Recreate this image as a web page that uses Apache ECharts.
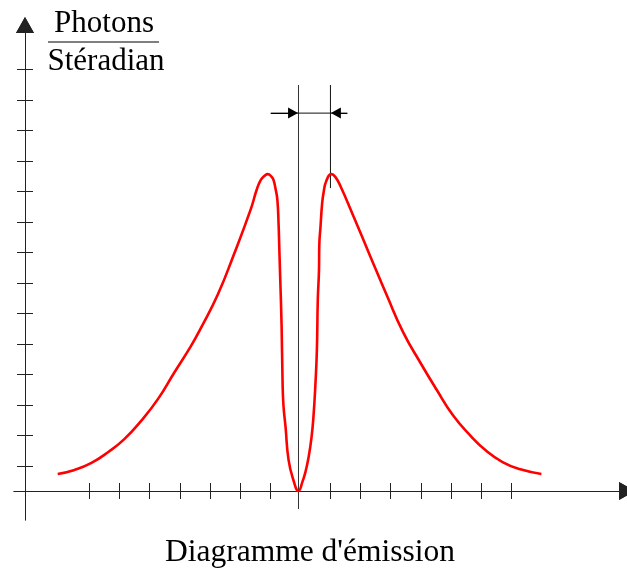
<!DOCTYPE html>
<html>
<head>
<meta charset="utf-8">
<script src="https://cdn.jsdelivr.net/npm/echarts@6/dist/echarts.min.js"></script>
<style>html,body{margin:0;padding:0;background:#fff;}#chart{width:627px;height:571px;}</style>
</head>
<body>
<div id="chart"></div>
<script>
// Emission curve (x: angle in tick units, 0 = axis of the beam; y: photons per steradian in tick units)
var curveX = [-7.99,-7.43,-6.87,-6.31,-5.78,-5.22,-4.66,-4.13,-3.57,-3.24,-2.67,-2.15,-1.58,-1.39,-1.25,-1.12,-1.02,-0.89,-0.83,-0.76,-0.70,-0.66,-0.64,-0.61,-0.56,-0.53,-0.50,-0.43,-0.33,-0.17,0,
              0.13,0.23,0.33,0.43,0.50,0.56,0.61,0.64,0.68,0.69,0.73,0.78,0.83,0.92,1.09,1.22,1.39,1.82,2.38,2.94,3.47,4.03,4.59,5.12,5.68,6.24,6.77,7.33,8.06];
var curveY = [0.56,0.69,0.92,1.28,1.70,2.30,3.02,3.87,4.75,5.34,6.46,7.74,9.25,9.87,10.20,10.34,10.39,10.30,10.20,9.90,9.54,8.72,8.07,7.08,5.38,3.64,2.82,2.10,1.02,0.36,0,
              0.30,0.62,1.08,1.74,2.49,3.48,4.62,6.26,7.25,8.07,8.66,9.38,9.77,10.16,10.39,10.30,10.00,9.02,7.70,6.39,5.21,4.23,3.31,2.49,1.84,1.31,0.95,0.72,0.56];
// Tick positions
var xTicks = [-6.94,-5.94,-4.94,-3.94,-2.94,-1.94,-0.94,1.06,2.06,3.06,4.06,5.06,6.06,7.06];
var yTicks = [0.82,1.82,2.82,3.82,4.82,5.82,6.82,7.82,8.82,9.82,10.82,11.82,12.82,13.82];
// Annotation (angular width between beam axis and the peak)
var centerLineX = [0, 0];
var centerLineY = [-0.59, 13.31];
var peakLineX = [1.06, 1.06];
var peakLineY = [9.93, 13.31];
var spanX = [-0.92, 1.62];
var spanY = [12.39, 12.39];
var arrowFromX = [-0.92, 1.62];
var arrowToX = [-0.18, 1.24];
// Texts
var yTitleTop = 'Photons';
var yTitleBottom = 'Stéradian';
var xTitle = "Diagramme d'émission";

function zip(a, b) { return a.map(function (v, i) { return [v, b[i]]; }); }

var serif = 'Liberation Serif';
var axisColor = '#222';

function xAxisDef(inside) {
  return {
    type: 'value', min: -9.44, max: 10.9, position: 'bottom',
    axisLine: { show: true, onZero: true, onZeroAxisIndex: 0, symbol: ['none', 'triangle'], symbolSize: [18, 16], lineStyle: { color: axisColor, width: 1 } },
    axisTick: { show: true, inside: inside, length: 8, customValues: xTicks, lineStyle: { color: axisColor, width: 1 } },
    axisLabel: { show: false, customValues: xTicks },
    splitLine: { show: false }
  };
}
function yAxisDef(inside) {
  return {
    type: 'value', min: -0.951, max: 15.279, position: 'left', offset: -11,
    axisLine: { show: true, onZero: false, symbol: ['none', 'triangle'], symbolSize: [18, 16], lineStyle: { color: axisColor, width: 1 } },
    axisTick: { show: true, inside: inside, length: 8, customValues: yTicks, lineStyle: { color: axisColor, width: 1 } },
    axisLabel: { show: false, customValues: yTicks },
    splitLine: { show: false }
  };
}

var chart = echarts.init(document.getElementById('chart'), null, { renderer: 'canvas' });
chart.setOption({
  animation: false,
  backgroundColor: '#fff',
  grid: { left: 14, top: 25, width: 616, height: 495, containLabel: false },
  xAxis: [xAxisDef(false), xAxisDef(true)],
  yAxis: [yAxisDef(false), yAxisDef(true)],
  series: [
    {
      name: 'center', type: 'line', silent: true, showSymbol: false, symbol: 'none',
      data: zip(centerLineX, centerLineY),
      lineStyle: { color: '#333', width: 1 }, z: 3
    },
    {
      name: 'peak', type: 'line', silent: true, showSymbol: false, symbol: 'none',
      data: zip(peakLineX, peakLineY),
      lineStyle: { color: '#111', width: 1 }, z: 3
    },
    {
      name: 'span', type: 'line', silent: true, showSymbol: false, symbol: 'none',
      data: zip(spanX, spanY),
      lineStyle: { color: '#111', width: 1 }, z: 3,
      markLine: {
        silent: true, symbol: ['none', 'triangle'], symbolSize: [11, 10],
        label: { show: false }, emphasis: { disabled: true },
        lineStyle: { color: '#000', width: 1, type: 'solid' },
        data: arrowFromX.map(function (x0, i) {
          return [{ coord: [x0, spanY[0]] }, { coord: [arrowToX[i], spanY[0]] }];
        })
      }
    },
    {
      name: 'emission', type: 'line', silent: true, showSymbol: false, symbol: 'none',
      smooth: 0.5,
      data: zip(curveX, curveY),
      lineStyle: { color: '#ff0000', width: 2.6 }, z: 5
    }
  ],
  graphic: [
    { type: 'text', style: { text: yTitleTop, x: 104, y: 24, textAlign: 'center', textVerticalAlign: 'middle', fontFamily: serif, fontSize: 31, fill: '#000' } },
    { type: 'line', shape: { x1: 48, y1: 42, x2: 159, y2: 42 }, style: { stroke: '#000', lineWidth: 1 } },
    { type: 'text', style: { text: yTitleBottom, x: 106, y: 62, textAlign: 'center', textVerticalAlign: 'middle', fontFamily: serif, fontSize: 31, fill: '#000' } },
    { type: 'text', style: { text: xTitle, x: 310, y: 553, textAlign: 'center', textVerticalAlign: 'middle', fontFamily: serif, fontSize: 31.5, fill: '#000' } }
  ]
});
</script>
</body>
</html>
